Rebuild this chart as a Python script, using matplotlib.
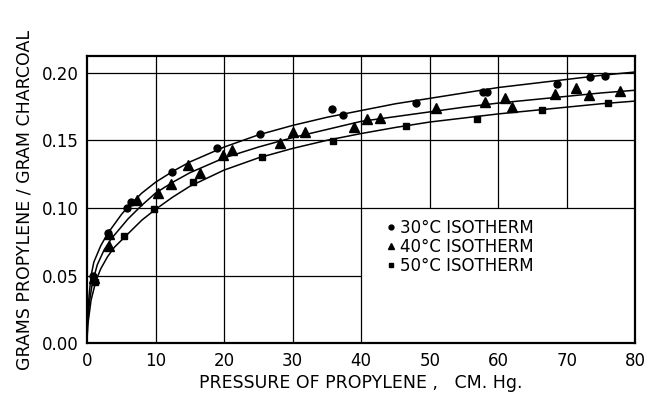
import matplotlib
matplotlib.use("Agg")
import matplotlib.pyplot as plt

# ---- data ----
p30 = [0.9, 3.1, 5.8, 6.4, 12.4, 18.9, 25.3, 35.8, 37.4, 48.0, 57.8, 58.4, 68.5, 73.4, 75.5]
y30 = [0.050, 0.0815, 0.0997, 0.1046, 0.1268, 0.1440, 0.1550, 0.1728, 0.1686, 0.1777, 0.1858, 0.1858, 0.1913, 0.1970, 0.1974]

p40 = [1.0, 3.2, 3.2, 7.3, 10.3, 12.2, 14.7, 16.5, 19.9, 21.2, 28.1, 30.0, 31.8, 39.0, 40.9, 42.7, 50.9, 58.0, 60.9, 62.0, 68.2, 71.3, 73.2, 77.7]
y40 = [0.048, 0.081, 0.072, 0.106, 0.111, 0.118, 0.132, 0.1256, 0.139, 0.1428, 0.1477, 0.1558, 0.1558, 0.1595, 0.166, 0.1666, 0.174, 0.1785, 0.1814, 0.1748, 0.1839, 0.1883, 0.1834, 0.1863]

p50 = [1.2, 5.4, 9.8, 15.5, 25.5, 35.9, 46.6, 56.9, 66.4, 76.0]
y50 = [0.045, 0.079, 0.099, 0.119, 0.1374, 0.1497, 0.1607, 0.1657, 0.1723, 0.1777]

# fitted curves as drawn in the reference (read at sample pressures)
c30_p = [0, 0.1, 0.3, 0.6, 1, 2, 3, 4, 5, 6, 8, 10, 12.5, 15, 20, 25, 30, 35, 40, 45, 50, 55, 60, 65, 70, 75, 80]
c30_y = [0, 0.020, 0.035, 0.050, 0.060, 0.072, 0.081, 0.088, 0.095, 0.101, 0.111, 0.119, 0.127, 0.134, 0.145, 0.154, 0.161, 0.167, 0.172, 0.177, 0.181, 0.185, 0.189, 0.192, 0.195, 0.198, 0.2005]

c40_p = [0, 0.1, 0.4, 0.8, 1.5, 2.5, 3.5, 5, 6, 8, 10, 12.5, 15, 20, 25, 30, 35, 40, 45, 50, 55, 60, 65, 70, 75, 80]
c40_y = [0, 0.017, 0.032, 0.045, 0.058, 0.069, 0.077, 0.086, 0.092, 0.102, 0.111, 0.119, 0.126, 0.137, 0.145, 0.152, 0.158, 0.164, 0.1675, 0.171, 0.1745, 0.1775, 0.180, 0.1825, 0.185, 0.187]

c50_p = [0, 0.1, 0.6, 1.3, 2, 3, 4, 5, 6, 8, 10, 12.5, 15, 20, 25, 30, 35, 40, 45, 50, 55, 60, 65, 70, 75, 80]
c50_y = [0, 0.013, 0.032, 0.046, 0.055, 0.064, 0.071, 0.076, 0.081, 0.091, 0.099, 0.108, 0.116, 0.128, 0.137, 0.144, 0.150, 0.155, 0.1595, 0.1635, 0.1665, 0.1695, 0.172, 0.1745, 0.177, 0.179]

labels = ["30°C ISOTHERM", "40°C ISOTHERM", "50°C ISOTHERM"]
xticks = [0, 10, 20, 30, 40, 50, 60, 70, 80]
yticks = [0.00, 0.05, 0.10, 0.15, 0.20]

plt.rcParams['font.family'] = ['DejaVu Sans']

fig = plt.figure(figsize=(6.53, 3.94), dpi=100)
ax = fig.add_axes([0.1332, 0.1287, 0.8400, 0.7299])
ax.set_xlim(0, 80)
ax.set_ylim(0, 0.2125)

# grid (partial, as in the reference)
for x in [10, 20, 30, 40]:
    ax.axvline(x, color='black', lw=0.9, zorder=1)
for x in [50, 60, 70]:
    ax.vlines(x, 0.10, 0.2125, color='black', lw=0.9, zorder=1)
for y in [0.10, 0.15, 0.20]:
    ax.axhline(y, color='black', lw=0.9, zorder=1)
ax.hlines(0.05, 0, 40, color='black', lw=0.9, zorder=1)

# curves
for cp, cy in [(c30_p, c30_y), (c40_p, c40_y), (c50_p, c50_y)]:
    ax.plot(cp, cy, color='black', lw=1.1, zorder=2)

h1, = ax.plot(p30, y30, 'o', color='black', ms=5, ls='none', zorder=3)
h2, = ax.plot(p40, y40, '^', color='black', ms=7, ls='none', zorder=3)
h3, = ax.plot(p50, y50, 's', color='black', ms=5, ls='none', zorder=3)

leg = ax.legend([h1, h2, h3], labels, loc='upper left', bbox_to_anchor=(0.548, 0.432),
                frameon=False, fontsize=12, handlelength=0.45, handletextpad=0.3,
                labelspacing=0.05, markerscale=0.7, borderpad=0, borderaxespad=0)

ax.set_xticks(xticks)
ax.set_xticklabels([str(t) for t in xticks])
ax.set_yticks(yticks)
ax.set_yticklabels([f"{t:.2f}" for t in yticks])
ax.tick_params(length=0, labelsize=12, pad=6)

for s in ax.spines.values():
    s.set_linewidth(1.6)

ax.set_xlabel("PRESSURE OF PROPYLENE ,   CM. Hg.", fontsize=12.5, labelpad=3)
ax.set_ylabel("GRAMS PROPYLENE / GRAM CHARCOAL", fontsize=12.5, labelpad=6)

fig.savefig("out.png", dpi=100)
